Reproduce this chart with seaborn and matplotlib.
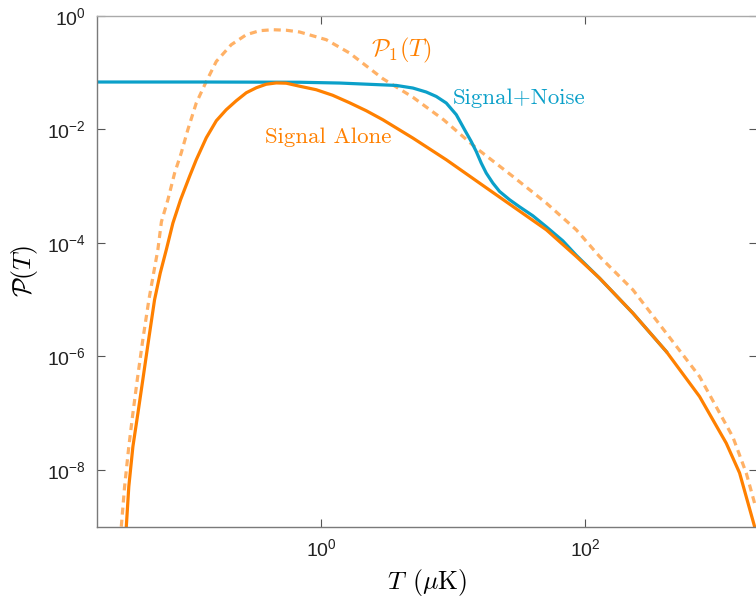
import numpy as np
import pandas as pd
import matplotlib
matplotlib.use("Agg")
import matplotlib.pyplot as plt
import matplotlib.ticker as mticker
import seaborn as sns

# ---- data (log10 T, log10 P) ----
alone_lx = [-1.477, -1.458, -1.427, -1.389, -1.352, -1.308, -1.263, -1.220, -1.174, -1.124,
            -1.066, -0.998, -0.947, -0.871, -0.795, -0.720, -0.644, -0.568, -0.492, -0.417,
            -0.341, -0.265, -0.164, -0.038, 0.086, 0.214, 0.341, 0.467, 0.694, 0.947,
            1.199, 1.452, 1.705, 1.932, 2.108, 2.361, 2.614, 2.866, 3.068, 3.169, 3.283]
alone_ly = [-9.000, -8.294, -7.589, -7.001, -6.414, -5.709, -5.004, -4.534, -4.123, -3.653,
            -3.242, -2.832, -2.537, -2.150, -1.850, -1.656, -1.498, -1.357, -1.269, -1.207,
            -1.184, -1.189, -1.242, -1.304, -1.401, -1.533, -1.674, -1.833, -2.155, -2.537,
            -2.948, -3.360, -3.771, -4.241, -4.622, -5.239, -5.915, -6.708, -7.529, -8.053, -9.000]

noise_lx = [-1.702, -0.922, -0.164, 0.139, 0.442, 0.568, 0.694, 0.795, 0.871, 0.947,
            1.023, 1.086, 1.136, 1.174, 1.212, 1.250, 1.300, 1.351, 1.427, 1.502,
            1.603, 1.705, 1.830, 1.932, 2.108, 2.361, 2.614]
noise_ly = [-1.168, -1.168, -1.172, -1.186, -1.216, -1.228, -1.274, -1.344, -1.422, -1.538,
            -1.744, -2.009, -2.215, -2.391, -2.596, -2.772, -2.948, -3.096, -3.242, -3.366,
            -3.524, -3.718, -3.965, -4.220, -4.622, -5.239, -5.915]

p1_lx = [-1.515, -1.490, -1.458, -1.427, -1.394, -1.352, -1.306, -1.270, -1.238, -1.211,
         -1.162, -1.111, -1.061, -1.011, -0.947, -0.871, -0.795, -0.682, -0.568, -0.467,
         -0.367, -0.265, -0.164, 0.038, 0.214, 0.467, 0.694, 0.927, 1.174, 1.452,
         1.705, 1.932, 2.108, 2.361, 2.614, 2.866, 3.118, 3.220, 3.290]
p1_ly = [-9.000, -8.294, -7.589, -7.001, -6.414, -5.709, -5.004, -4.534, -4.123, -3.630,
         -3.242, -2.772, -2.419, -2.009, -1.538, -1.158, -0.805, -0.511, -0.335, -0.264,
         -0.247, -0.256, -0.287, -0.423, -0.657, -1.110, -1.436, -1.833, -2.331, -2.832,
         -3.300, -3.771, -4.241, -4.828, -5.591, -6.356, -7.419, -8.058, -8.647]

xticks = [1, 100]
yticks = [1e-8, 1e-6, 1e-4, 1e-2, 1e0]

ORANGE = "#FF8000"
LIGHT_ORANGE = "#FFB166"
BLUE = "#0BA0C9"

plt.rcParams["mathtext.fontset"] = "custom"
plt.rcParams["mathtext.rm"] = "Liberation Sans"
plt.rcParams["mathtext.it"] = "Liberation Sans:italic"
plt.rcParams["font.family"] = ["Liberation Sans", "DejaVu Sans"]

fig = plt.figure(figsize=(7.56, 5.99), dpi=100)
ax = fig.add_axes([97 / 756, 72.3 / 599, 660 / 756, 511 / 599])

df_noise = pd.DataFrame({"T": 10 ** np.array(noise_lx), "P": 10 ** np.array(noise_ly)})
df_alone = pd.DataFrame({"T": 10 ** np.array(alone_lx), "P": 10 ** np.array(alone_ly)})
df_p1 = pd.DataFrame({"T": 10 ** np.array(p1_lx), "P": 10 ** np.array(p1_ly)})

sns.lineplot(data=df_p1, x="T", y="P", ax=ax, color=LIGHT_ORANGE, lw=2.3,
             linestyle=(0, (2.2, 1.6)), estimator=None)
sns.lineplot(data=df_noise, x="T", y="P", ax=ax, color=BLUE, lw=2.3, estimator=None)
sns.lineplot(data=df_alone, x="T", y="P", ax=ax, color=ORANGE, lw=2.3, estimator=None)
for ln in ax.lines:
    ln.set_solid_joinstyle("round")
    ln.set_dash_joinstyle("round")

ax.set_xscale("log")
ax.set_yscale("log")
ax.set_xlim(0.02, 2000)
ax.set_ylim(1e-9, 1)
ax.xaxis.set_major_locator(mticker.FixedLocator(xticks))
ax.yaxis.set_major_locator(mticker.FixedLocator(yticks))
ax.xaxis.set_minor_locator(mticker.NullLocator())
ax.yaxis.set_minor_locator(mticker.NullLocator())
ax.xaxis.set_major_formatter(mticker.LogFormatterSciNotation())
ax.yaxis.set_major_formatter(mticker.LogFormatterSciNotation())
ax.tick_params(direction="in", length=6, width=0.8, color="#555555",
               top=True, right=True, labelsize=14, labelcolor="#222222", pad=8)

for side in ["left", "bottom"]:
    ax.spines[side].set_color("#7a7a7a")
for side in ["top", "right"]:
    ax.spines[side].set_color("#aaaaaa")
for s in ax.spines.values():
    s.set_linewidth(1.0)

ax.set_xlabel(r"$T\;\,(\mu\mathrm{K})$", fontsize=18.5, math_fontfamily="cm", labelpad=5)
ax.set_ylabel(r"$\mathcal{P}(T)$", fontsize=18.5, math_fontfamily="cm", labelpad=5)

ax.text(10 ** -0.4295, 10 ** -2.243, "Signal Alone", family="cmr10", fontsize=16.5,
        color=ORANGE, ha="left", va="baseline")
ax.text(10 ** 0.997, 10 ** -1.551, "Signal+Noise", family="cmr10", fontsize=16.5,
        color=BLUE, ha="left", va="baseline")
ax.text(10 ** 0.379, 10 ** -0.722, r"$\mathcal{P}_1(T)$", math_fontfamily="cm",
        fontsize=17.5, color=ORANGE, ha="left", va="baseline")

fig.savefig("out.png", dpi=100)
